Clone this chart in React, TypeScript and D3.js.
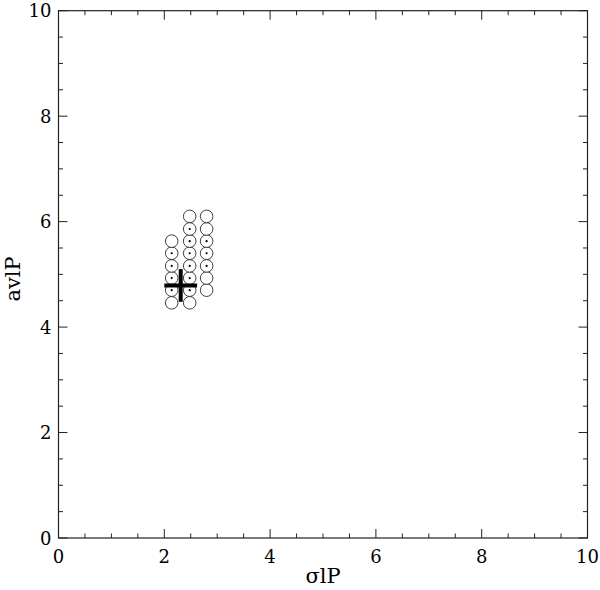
import React, { useEffect, useRef } from "react";
import * as d3 from "d3";

// grid columns (sigma lP) and rows (av lP) of the model circles
const colX = [2.14, 2.48, 2.8];
const colY = [
  [4.46, 4.7, 4.93, 5.16, 5.4, 5.63],
  [4.46, 4.7, 4.93, 5.16, 5.4, 5.63, 5.86, 6.1],
  [4.7, 4.93, 5.16, 5.4, 5.63, 5.86, 6.1],
];
// which circles carry a central dot (same order as colY)
const colDot = [
  [false, true, true, true, true, false],
  [false, true, true, true, true, true, true, false],
  [false, false, true, true, true, false, false],
];

// measured value with its error
const best = { x: 2.31, y: 4.79, ex: 0.31, ey: 0.31 };

const majorTicks = [0, 2, 4, 6, 8, 10];
const minorTicks = d3.range(0, 10.01, 0.5);

const App = () => {
  const svgRef = useRef<SVGSVGElement>(null);

  useEffect(() => {
    if (!svgRef.current) return;
    const width = 600;
    const height = 590;
    const margin = { top: 10.7, right: 12.5, bottom: 52, left: 58.5 };

    const svg = d3.select(svgRef.current);
    svg.selectAll("*").remove();
    svg.attr("width", width).attr("height", height);

    const x = d3.scaleLinear().domain([0, 10]).range([margin.left, width - margin.right]);
    const y = d3.scaleLinear().domain([0, 10]).range([height - margin.bottom, margin.top]);

    const font = "'DejaVu Serif', serif";

    // frame
    svg
      .append("rect")
      .attr("x", x(0))
      .attr("y", y(10))
      .attr("width", x(10) - x(0))
      .attr("height", y(0) - y(10))
      .attr("fill", "none")
      .attr("stroke", "#222")
      .attr("stroke-width", 1.2);

    const ticks = svg.append("g").attr("stroke", "#222").attr("stroke-width", 1);
    minorTicks.forEach((t) => {
      const len = majorTicks.includes(t) ? 9 : 4.5;
      // bottom & top
      ticks.append("line").attr("x1", x(t)).attr("x2", x(t)).attr("y1", y(0)).attr("y2", y(0) - len);
      ticks.append("line").attr("x1", x(t)).attr("x2", x(t)).attr("y1", y(10)).attr("y2", y(10) + len);
      // left & right
      ticks.append("line").attr("y1", y(t)).attr("y2", y(t)).attr("x1", x(0)).attr("x2", x(0) + len);
      ticks.append("line").attr("y1", y(t)).attr("y2", y(t)).attr("x1", x(10)).attr("x2", x(10) - len);
    });

    // tick labels
    svg
      .selectAll(".xlab")
      .data(majorTicks)
      .enter()
      .append("text")
      .attr("x", (d) => x(d))
      .attr("y", y(0) + 24.5)
      .attr("text-anchor", "middle")
      .style("font-family", font)
      .style("font-size", "18px")
      .text((d) => d);

    svg
      .selectAll(".ylab")
      .data(majorTicks)
      .enter()
      .append("text")
      .attr("x", x(0) - 7)
      .attr("y", (d) => y(d) + 6.5)
      .attr("text-anchor", "end")
      .style("font-family", font)
      .style("font-size", "18px")
      .text((d) => d);

    // axis titles
    svg
      .append("text")
      .attr("x", (x(0) + x(10)) / 2)
      .attr("y", 583)
      .attr("text-anchor", "middle")
      .style("font-family", font)
      .style("font-size", "21px")
      .text("σlP");

    svg
      .append("text")
      .attr("transform", `translate(20,279) rotate(-90)`)
      .attr("text-anchor", "middle")
      .style("font-family", font)
      .style("font-size", "21px")
      .text("avlP");

    // circles
    const pts = colX.flatMap((cx, i) => colY[i].map((cy, j) => ({ x: cx, y: cy, dot: colDot[i][j] })));
    svg
      .append("g")
      .selectAll("circle")
      .data(pts)
      .enter()
      .append("circle")
      .attr("cx", (d) => x(d.x))
      .attr("cy", (d) => y(d.y))
      .attr("r", 6.3)
      .attr("fill", "white")
      .attr("stroke", "#111")
      .attr("stroke-width", 0.8);

    svg
      .append("g")
      .selectAll("circle")
      .data(pts.filter((d) => d.dot))
      .enter()
      .append("circle")
      .attr("cx", (d) => x(d.x))
      .attr("cy", (d) => y(d.y))
      .attr("r", 1.1)
      .attr("fill", "#000");

    // cross
    const cross = svg.append("g").attr("stroke", "#000").attr("stroke-width", 4);
    cross
      .append("line")
      .attr("x1", x(best.x - best.ex))
      .attr("x2", x(best.x + best.ex))
      .attr("y1", y(best.y))
      .attr("y2", y(best.y));
    cross
      .append("line")
      .attr("x1", x(best.x))
      .attr("x2", x(best.x))
      .attr("y1", y(best.y - best.ey))
      .attr("y2", y(best.y + best.ey));
  }, []);

  return <svg ref={svgRef} style={{ position: "absolute", left: 0, top: 0 }}></svg>;
};

export default App;
